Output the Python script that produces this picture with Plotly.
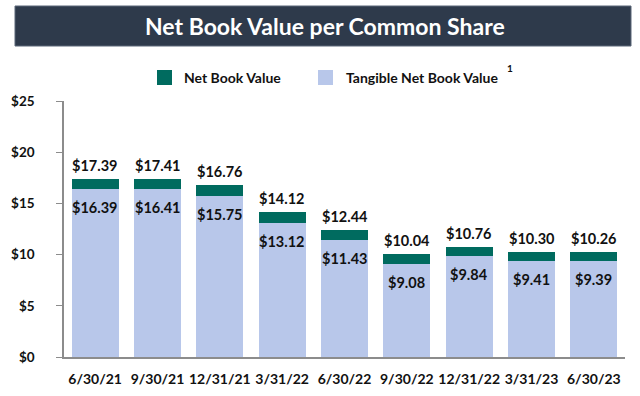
import plotly.graph_objects as go

categories = ["6/30/21", "9/30/21", "12/31/21", "3/31/22", "6/30/22",
              "9/30/22", "12/31/22", "3/31/23", "6/30/23"]
net_book_value = [17.39, 17.41, 16.76, 14.12, 12.44, 10.04, 10.76, 10.30, 10.26]
tangible_book_value = [16.39, 16.41, 15.75, 13.12, 11.43, 9.08, 9.84, 9.41, 9.39]
y_ticks = [0, 5, 10, 15, 20, 25]
y_tick_labels = ["$0", "$5", "$10", "$15", "$20", "$25"]

TEAL = "#006b5f"
LIGHT = "#b8c7ea"
NAVY = "#2e3a4b"
FONT = "Lato"

W, H = 640, 396
L, R, T, B = 64, 15, 101, 39
pw, ph = W - L - R, H - T - B

def px_x(x):
    return (x - L) / pw

def px_y(y):
    return (H - B - y) / ph

diff = [round(n - t, 2) for n, t in zip(net_book_value, tangible_book_value)]

fig = go.Figure()
fig.add_trace(go.Bar(x=categories, y=tangible_book_value, marker_color=LIGHT,
                     marker_line_width=0, name="Tangible Net Book Value",
                     showlegend=False, hoverinfo="skip"))
fig.add_trace(go.Bar(x=categories, y=diff, marker_color=TEAL,
                     marker_line_width=0, name="Net Book Value",
                     showlegend=False, hoverinfo="skip"))

annotations = []
for c, n, t in zip(categories, net_book_value, tangible_book_value):
    annotations.append(dict(x=c, y=n, xref="x", yref="y", text=f"<b>${n:.2f}</b>",
                            showarrow=False, yanchor="bottom", yshift=3,
                            font=dict(family=FONT, size=14.5, color="#111111")))
    annotations.append(dict(x=c, y=t, xref="x", yref="y", text=f"<b>${t:.2f}</b>",
                            showarrow=False, yanchor="top", yshift=-8,
                            font=dict(family=FONT, size=14.5, color="#111111")))

# Title text
annotations.append(dict(x=px_x(325), y=px_y(26), xref="paper", yref="paper",
                        text="<b>Net Book Value per Common Share</b>", showarrow=False,
                        xanchor="center", yanchor="middle",
                        font=dict(family=FONT, size=23, color="white")))
# Legend texts
annotations.append(dict(x=px_x(182), y=px_y(77), xref="paper", yref="paper",
                        text="<b>Net Book Value</b>", showarrow=False,
                        xanchor="left", yanchor="middle",
                        font=dict(family=FONT, size=14, color="#111111")))
annotations.append(dict(x=px_x(344), y=px_y(77), xref="paper", yref="paper",
                        text="<b>Tangible Net Book Value</b>", showarrow=False,
                        xanchor="left", yanchor="middle",
                        font=dict(family=FONT, size=14, color="#111111")))
annotations.append(dict(x=px_x(510), y=px_y(68), xref="paper", yref="paper",
                        text="<b>1</b>", showarrow=False,
                        xanchor="center", yanchor="middle",
                        font=dict(family=FONT, size=10, color="#111111")))

shapes = [
    dict(type="rect", xref="paper", yref="paper", x0=px_x(15), x1=px_x(631),
         y0=px_y(46), y1=px_y(6), fillcolor=NAVY, line=dict(width=1, color="#5a6678"), layer="below"),
    dict(type="rect", xref="paper", yref="paper", x0=px_x(157), x1=px_x(172),
         y0=px_y(85), y1=px_y(70), fillcolor=TEAL, line=dict(width=0)),
    dict(type="rect", xref="paper", yref="paper", x0=px_x(318), x1=px_x(333),
         y0=px_y(85), y1=px_y(70), fillcolor=LIGHT, line=dict(width=0)),
]

fig.update_layout(
    width=W, height=H, barmode="stack", bargap=0.245,
    margin=dict(l=L, r=R, t=T, b=B, pad=0, autoexpand=False),
    plot_bgcolor="white", paper_bgcolor="white",
    annotations=annotations, shapes=shapes, showlegend=False,
    font=dict(family=FONT, color="#111111"),
)
fig.update_yaxes(range=[0, 25], tickvals=y_ticks, ticktext=[f"<b>{s}</b>" for s in y_tick_labels],
                 showgrid=False, zeroline=False, showline=True, linecolor="#8c8c8c",
                 linewidth=1.5, ticks="outside", ticklen=6, tickcolor="#8c8c8c",
                 tickfont=dict(family=FONT, size=13.5, color="#111111"), ticklabelstandoff=19,
                 automargin=False)
fig.update_xaxes(showgrid=False, showline=True, linecolor="#8c8c8c", linewidth=1.5,
                 ticks="", tickfont=dict(family=FONT, size=14, color="#111111"),
                 tickvals=categories, ticktext=[f"<b>{c}</b>" for c in categories],
                 ticklabelstandoff=8, automargin=False)

fig.write_html("out.html", config={"displayModeBar": False},
               post_script="document.body.style.margin='0';document.body.style.overflow='hidden';")
